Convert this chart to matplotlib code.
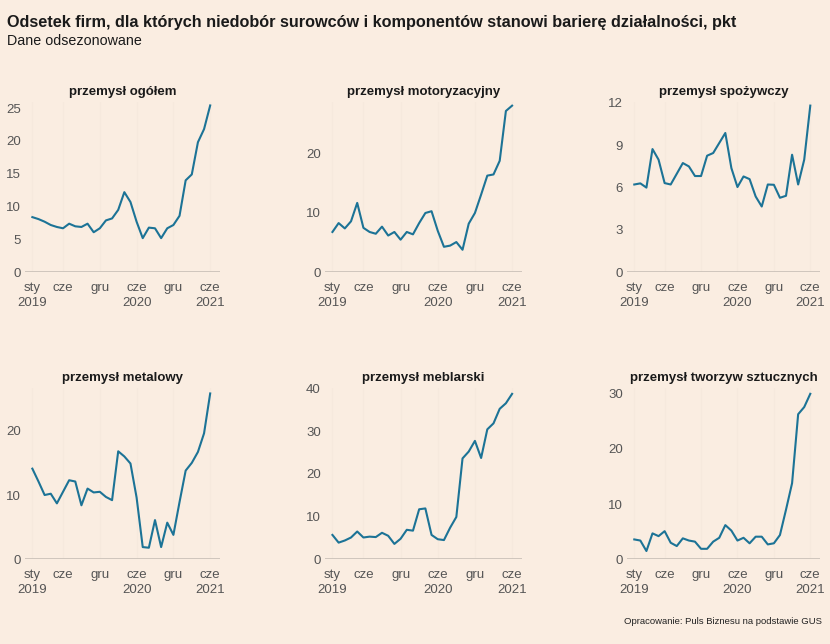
import matplotlib.pyplot as plt
import numpy as np

plt.rcParams['font.family'] = ['Liberation Sans', 'DejaVu Sans']

# miesiące: sty 2019 - cze 2021
months = np.arange(30)
tick_pos = [0, 5, 11, 17, 23, 29]
tick_labels = ['sty\n2019', 'cze', 'gru', 'cze\n2020', 'gru', 'cze\n2021']

ogolem = [8.4, 8.1, 7.7, 7.2, 6.9, 6.7, 7.4, 7.0, 6.9, 7.4, 6.1, 6.7, 7.9, 8.2, 9.5,
          12.2, 10.7, 7.7, 5.2, 6.8, 6.7, 5.2, 6.7, 7.2, 8.6, 14.0, 14.9, 19.8, 21.8, 25.4]
motoryzacyjny = [6.8, 8.3, 7.4, 8.6, 11.7, 7.5, 6.8, 6.5, 7.7, 6.2, 6.8, 5.5, 6.8, 6.4, 8.3,
                 10.0, 10.3, 7.0, 4.3, 4.5, 5.1, 3.8, 8.2, 10.0, 13.1, 16.3, 16.5, 18.8, 27.2, 28.1]
spozywczy = [6.22, 6.3, 6.0, 8.73, 7.98, 6.32, 6.22, 6.98, 7.74, 7.5, 6.82, 6.82, 8.26, 8.45, 9.16,
             9.87, 7.38, 6.04, 6.79, 6.6, 5.37, 4.66, 6.22, 6.2, 5.28, 5.42, 8.33, 6.22, 7.98, 11.81]
metalowy = [14.1, 12.1, 10.0, 10.2, 8.7, 10.5, 12.3, 12.1, 8.4, 11.0, 10.4, 10.5, 9.7, 9.2, 16.8,
            16.0, 14.9, 9.6, 1.9, 1.8, 6.1, 1.9, 5.7, 3.8, 8.9, 13.8, 15.0, 16.7, 19.6, 25.8]
meblarski = [5.7, 3.9, 4.4, 5.1, 6.5, 5.1, 5.3, 5.2, 6.2, 5.5, 3.6, 4.8, 6.9, 6.7, 11.7,
             11.9, 5.7, 4.7, 4.5, 7.4, 9.9, 23.6, 25.2, 27.7, 23.7, 30.4, 31.8, 35.2, 36.5, 38.7]
tworzywa = [3.6, 3.4, 1.5, 4.7, 4.2, 5.1, 3.0, 2.4, 3.8, 3.4, 3.2, 1.9, 1.9, 3.2, 3.9,
            6.2, 5.2, 3.4, 3.9, 2.9, 4.1, 4.1, 2.7, 2.9, 4.4, 9.0, 13.8, 26.3, 27.6, 30.0]

panels = [
    ('przemysł ogółem', ogolem, [0, 5, 10, 15, 20, 25], 26.0),
    ('przemysł motoryzacyjny', motoryzacyjny, [0, 10, 20], 28.8),
    ('przemysł spożywczy', spozywczy, [0, 3, 6, 9, 12], 12.1),
    ('przemysł metalowy', metalowy, [0, 10, 20], 26.6),
    ('przemysł meblarski', meblarski, [0, 10, 20, 30, 40], 40.0),
    ('przemysł tworzyw sztucznych', tworzywa, [0, 10, 20, 30], 31.0),
]

bg = '#FAEDE1'
line_color = '#1c7396'
W, H = 830, 644

fig = plt.figure(figsize=(8.3, 6.44), dpi=100, facecolor=bg)

lefts = [25, 325, 627]
widths = [195, 197, 193]
rows = [(101.5, 272.3), (388.3, 559.3)]

for i, (title, vals, yticks, ytop) in enumerate(panels):
    r, c = divmod(i, 3)
    top, bottom = rows[r]
    ax = fig.add_axes([lefts[c] / W, 1 - bottom / H, widths[c] / W, (bottom - top) / H])
    ax.set_facecolor(bg)
    ax.set_xlim(-1.2, 30.6)
    ax.set_ylim(0, ytop)
    ax.plot(months, vals, color=line_color, lw=1.5, clip_on=False, zorder=3)
    ax.axhline(0, color='#c8bfb6', lw=1.2, zorder=2)
    ax.set_xticks(tick_pos)
    ax.set_xticklabels(tick_labels, linespacing=1.3)
    ax.set_yticks(yticks)
    ax.tick_params(length=0, labelsize=9.5, colors='#555555')
    ax.tick_params(axis='x', pad=7)
    ax.tick_params(axis='y', pad=3)
    for s in ax.spines.values():
        s.set_visible(False)
    ax.grid(axis='x', color='#f6e9dd', lw=0.8)
    ax.set_axisbelow(True)
    ax.set_title(title, fontsize=9.5, fontweight='bold', color='#1a1a1a', pad=5)

fig.text(7 / W, 1 - 22 / H, 'Odsetek firm, dla których niedobór surowców i komponentów stanowi barierę działalności, pkt',
         fontsize=11.7, fontweight='bold', color='#1a1a1a', va='center', ha='left')
fig.text(7 / W, 1 - 41 / H, 'Dane odsezonowane', fontsize=10.3, color='#1a1a1a', va='center', ha='left')
fig.text(822 / W, 1 - 622 / H, 'Opracowanie: Puls Biznesu na podstawie GUS',
         fontsize=6.8, color='#222222', va='center', ha='right')

fig.savefig('out.png', dpi=100, facecolor=bg)
